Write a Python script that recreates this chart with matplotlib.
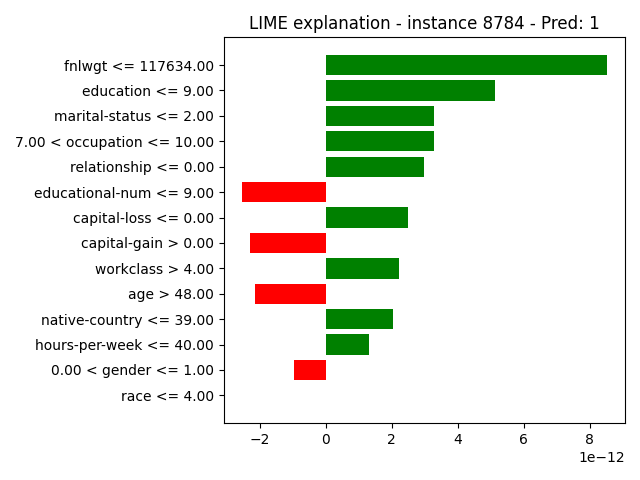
import matplotlib
matplotlib.use("Agg")
import matplotlib.pyplot as plt
import numpy as np

features = ["fnlwgt <= 117634.00", "education <= 9.00", "marital-status <= 2.00",
            "7.00 < occupation <= 10.00", "relationship <= 0.00", "educational-num <= 9.00",
            "capital-loss <= 0.00", "capital-gain > 0.00", "workclass > 4.00", "age > 48.00",
            "native-country <= 39.00", "hours-per-week <= 40.00", "0.00 < gender <= 1.00",
            "race <= 4.00"]
values = [8.52, 5.12, 3.29, 3.29, 2.99, -2.54, 2.50, -2.30, 2.23, -2.15, 2.05, 1.32, -0.96, 0.0]
scale = 1e-12

names = features[::-1]
vals = [v * scale for v in values[::-1]]
colors = ["green" if v > 0 else "red" for v in vals]
pos = np.arange(len(vals)) + 0.5

fig = plt.figure(figsize=(6.4, 4.8), dpi=100)
plt.barh(pos, vals, align="center", color=colors)
plt.yticks(pos, names)
plt.title("LIME explanation - instance 8784 - Pred: 1")
plt.tight_layout()
plt.savefig("out.png")
